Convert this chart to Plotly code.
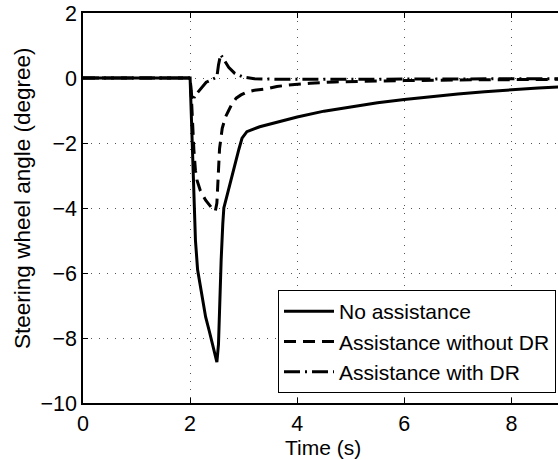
import plotly.graph_objects as go

# ---- data ----
t_none = [0, 2.0, 2.02, 2.04, 2.06, 2.08, 2.10, 2.14, 2.19, 2.24, 2.29, 2.36, 2.41, 2.46, 2.50,
          2.53, 2.55, 2.58, 2.61, 2.63, 2.70, 2.78, 2.85, 2.91, 2.97, 3.06, 3.3, 3.68, 4.0, 4.5,
          5.0, 5.5, 6.0, 6.5, 7.0, 7.5, 8.0, 8.5, 9.0]
y_none = [0, 0, -1.0, -2.0, -3.0, -4.0, -5.0, -5.9, -6.4, -6.9, -7.35, -7.8, -8.16, -8.5, -8.74,
          -8.2, -6.8, -5.6, -4.5, -4.0, -3.55, -3.0, -2.55, -2.2, -1.85, -1.65, -1.5, -1.33, -1.2, -1.02,
          -0.88, -0.76, -0.66, -0.57, -0.49, -0.42, -0.36, -0.31, -0.27]

t_nodr = [0, 2.0, 2.03, 2.05, 2.07, 2.10, 2.13, 2.19, 2.29, 2.41, 2.47, 2.50, 2.53, 2.55, 2.60,
          2.66, 2.72, 2.78, 2.86, 2.95, 3.05, 3.2, 3.44, 3.62, 3.83, 4.24, 4.7, 5.2, 6.0, 7.0, 8.0, 9.0]
y_nodr = [0, 0, -0.8, -1.6, -2.2, -2.85, -3.15, -3.46, -3.76, -4.01, -4.1, -3.85, -2.84, -2.17, -1.55,
          -1.2, -1.0, -0.8, -0.62, -0.52, -0.44, -0.38, -0.33, -0.26, -0.22, -0.16, -0.12, -0.1, -0.08, -0.06, -0.05, -0.04]

t_dr = [0, 2.0, 2.02, 2.04, 2.10, 2.20, 2.30, 2.38, 2.45, 2.50, 2.53, 2.57, 2.62, 2.72, 2.83,
        2.99, 3.2, 3.6, 4.5, 6.0, 8.0, 9.0]
y_dr = [0, 0, -0.4, -0.7, -0.53, -0.32, -0.13, -0.07, -0.02, 0.03, 0.4, 0.72, 0.6, 0.33, 0.15,
        0.03, -0.02, -0.04, -0.04, -0.03, -0.02, -0.02]

names = ["No assistance", "Assistance without DR", "Assistance with DR"]
x_ticks = [0, 2, 4, 6, 8]
y_ticks = [2, 0, -2, -4, -6, -8, -10]

FONT = "Liberation Sans, Arial, Helvetica, sans-serif"
FS_TICK = 21.5
FS_LEG = 21
FS_XT = 21
FS_YT = 22.5

fig = go.Figure()
fig.add_trace(go.Scatter(x=t_none, y=y_none, mode="lines", name=names[0],
                         line=dict(color="black", width=3)))
fig.add_trace(go.Scatter(x=t_nodr, y=y_nodr, mode="lines", name=names[1],
                         line=dict(color="black", width=3, dash="12px,7px")))
fig.add_trace(go.Scatter(x=t_dr, y=y_dr, mode="lines", name=names[2],
                         line=dict(color="black", width=3, dash="16px,5px,2px,5px")))

axis_common = dict(
    showline=True, linecolor="black", linewidth=1.5,
    ticks="inside", ticklen=5, tickcolor="black", tickwidth=1,
    showgrid=True, gridcolor="#555555", gridwidth=1, griddash="1px,7px",
    zeroline=False, automargin=False,
    tickfont=dict(family=FONT, size=FS_TICK, color="black"),
)

fig.update_layout(
    width=558, height=460,
    margin=dict(l=82.5, r=0, t=13, b=57),
    paper_bgcolor="white", plot_bgcolor="white",
    font=dict(family=FONT, size=FS_TICK, color="black"),
    xaxis=dict(range=[0, 8.87], tickvals=x_ticks, mirror="ticks", **axis_common),
    yaxis=dict(range=[-10, 2], tickvals=y_ticks, mirror=False, **axis_common),
    showlegend=True,
    legend=dict(x=0.9958, xanchor="right", y=0.0256, yanchor="bottom",
                bgcolor="white", bordercolor="black", borderwidth=1,
                font=dict(family=FONT, size=FS_LEG, color="black"),
                itemwidth=50, tracegroupgap=0),
    annotations=[
        dict(text="Time (s)", xref="paper", yref="paper", x=0.505, y=-0.113,
             xanchor="center", yanchor="middle", showarrow=False,
             font=dict(family=FONT, size=FS_XT, color="black")),
        dict(text="Steering wheel angle (degree)", xref="paper", yref="paper",
             x=-0.127, y=0.525, xanchor="center", yanchor="middle", textangle=-90,
             showarrow=False, font=dict(family=FONT, size=FS_YT, color="black")),
    ],
)

fig.write_html("out.html")
